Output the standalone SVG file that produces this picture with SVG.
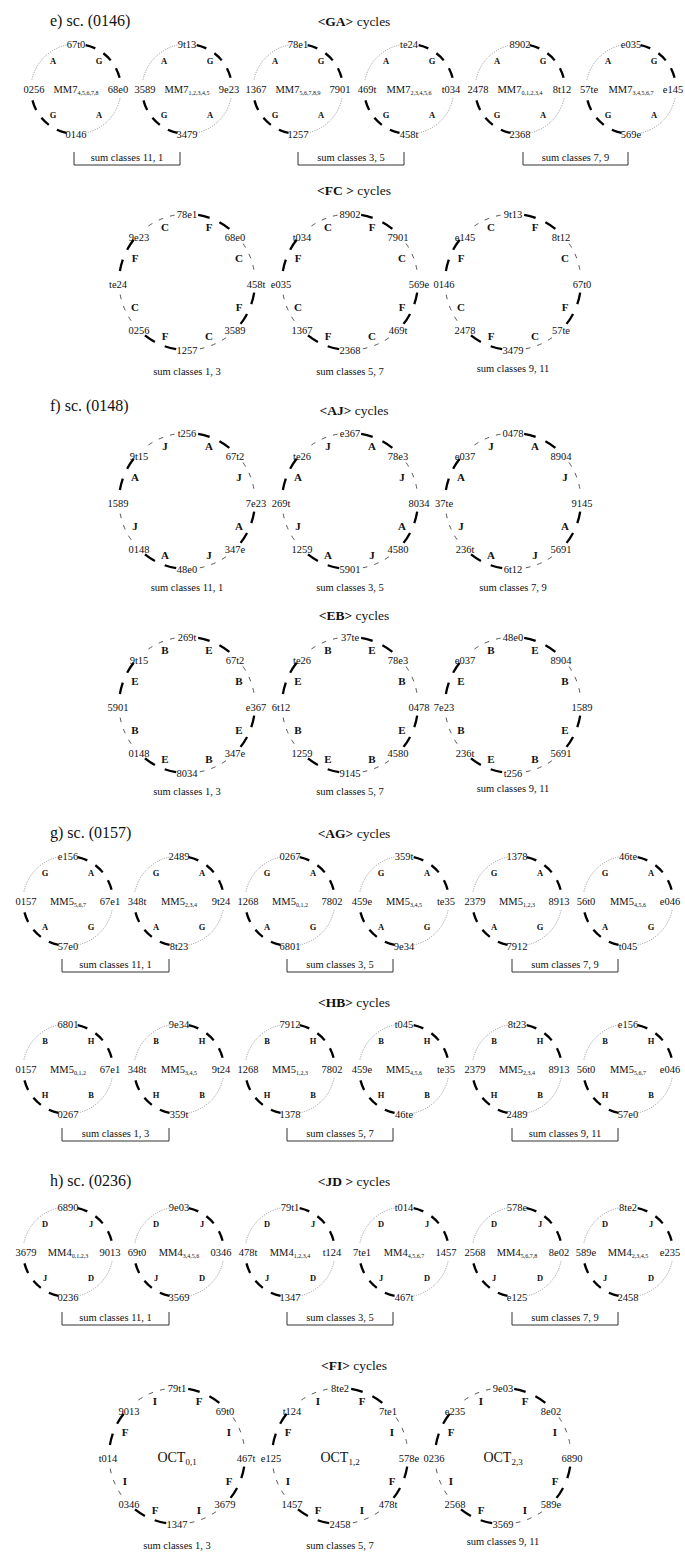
<svg xmlns="http://www.w3.org/2000/svg" xmlns:xlink="http://www.w3.org/1999/xlink" width="685" height="1552" viewBox="0 0 685 1552">
<style>
text{font-family:"Liberation Serif","Times New Roman",serif;fill:#111}
.l{font-size:10.5px;text-anchor:middle}
.lb{font-size:11px;font-weight:bold;text-anchor:middle}
.ls{font-size:8.5px;font-weight:bold;text-anchor:middle}
.mm{font-size:10.5px;text-anchor:middle}
.oc{font-size:14px;text-anchor:middle}
.sub{font-size:6px}
.sub2{font-size:9px}
.h{font-size:16px}
.t{font-size:13.5px;text-anchor:middle}
.b{font-weight:bold}
.sk{fill:none;stroke:#000;stroke-width:2.3;stroke-dasharray:10.21 9.42 10.21 9.42 10.21 91.89;stroke-dashoffset:61.26}
.dot{fill:none;stroke:#777;stroke-width:0.8;stroke-dasharray:1 1.4}
.bk{fill:none;stroke:#000;stroke-width:2.3;stroke-dasharray:11.87 10.68 11.87 72.4;stroke-dashoffset:96.13}
.bt{fill:none;stroke:#444;stroke-width:0.9;stroke-dasharray:4.75 7.12 4.75 7.12 4.75 78.33;stroke-dashoffset:41.54}
.br{fill:none;stroke:#333;stroke-width:1}
</style>
<defs>
<g id="sArcs"><circle r="45" class="sk"/><path class="dot" d="M-44.02,-9.36A45,45 0 0 1 -9.36,-44.02M44.02,9.36A45,45 0 0 1 9.36,44.02"/></g>
<g id="bArcs"><circle r="68" class="bk"/><circle r="68" class="bt"/></g>
</defs>
<rect width="685" height="1552" fill="#fff"/>

<g id="connectors">
<use href="#sArcs" x="76" y="89"/><use href="#sArcs" x="187" y="89"/><use href="#sArcs" x="298" y="89"/><use href="#sArcs" x="409" y="89"/><use href="#sArcs" x="520" y="89"/><use href="#sArcs" x="631" y="89"/>
<use href="#bArcs" x="187" y="282"/><use href="#bArcs" x="350" y="282"/><use href="#bArcs" x="513" y="282"/>
<use href="#bArcs" x="187" y="501"/><use href="#bArcs" x="350" y="501"/><use href="#bArcs" x="513" y="501"/>
<use href="#bArcs" x="187" y="705"/><use href="#bArcs" x="350" y="705"/><use href="#bArcs" x="513" y="705"/>
<use href="#sArcs" x="68" y="901"/><use href="#sArcs" x="179" y="901"/><use href="#sArcs" x="290" y="901"/><use href="#sArcs" x="404" y="901"/><use href="#sArcs" x="517" y="901"/><use href="#sArcs" x="628" y="901"/>
<use href="#sArcs" x="68" y="1069"/><use href="#sArcs" x="179" y="1069"/><use href="#sArcs" x="290" y="1069"/><use href="#sArcs" x="404" y="1069"/><use href="#sArcs" x="517" y="1069"/><use href="#sArcs" x="628" y="1069"/>
<use href="#sArcs" x="68" y="1252"/><use href="#sArcs" x="179" y="1252"/><use href="#sArcs" x="290" y="1252"/><use href="#sArcs" x="404" y="1252"/><use href="#sArcs" x="517" y="1252"/><use href="#sArcs" x="628" y="1252"/>
<use href="#bArcs" x="177" y="1456"/><use href="#bArcs" x="340" y="1456"/><use href="#bArcs" x="503" y="1456"/>
</g>

<g id="titles">
<text class="h" x="50" y="26">e) sc. (0146)</text>
<text class="t" x="354" y="26"><tspan class="b">&lt;GA&gt;</tspan> cycles</text>
<text class="t" x="354" y="195"><tspan class="b">&lt;FC &gt;</tspan> cycles</text>
<text class="h" x="50" y="411">f) sc. (0148)</text>
<text class="t" x="354" y="415"><tspan class="b">&lt;AJ&gt;</tspan> cycles</text>
<text class="t" x="354" y="620"><tspan class="b">&lt;EB&gt;</tspan> cycles</text>
<text class="h" x="50" y="838">g) sc. (0157)</text>
<text class="t" x="354" y="838"><tspan class="b">&lt;AG&gt;</tspan> cycles</text>
<text class="t" x="354" y="1007"><tspan class="b">&lt;HB&gt;</tspan> cycles</text>
<text class="h" x="50" y="1186">h) sc. (0236)</text>
<text class="t" x="354" y="1186"><tspan class="b">&lt;JD &gt;</tspan> cycles</text>
<text class="t" x="354" y="1370"><tspan class="b">&lt;FI&gt;</tspan> cycles</text>
</g>

<g id="brackets">
<path class="br" d="M74,152V165H180V152M298,152V165H404V152M523,152V165H628V152"/>
<text class="l" x="127" y="161">sum classes 11, 1</text>
<text class="l" x="351" y="161">sum classes 3, 5</text>
<text class="l" x="575.5" y="161">sum classes 7, 9</text>
<path class="br" d="M62,959V972H169V959M287,959V972H393V959M512,959V972H618V959"/>
<text class="l" x="115.5" y="968">sum classes 11, 1</text>
<text class="l" x="340" y="968">sum classes 3, 5</text>
<text class="l" x="565" y="968">sum classes 7, 9</text>
<path class="br" d="M62,1128V1141H169V1128M287,1128V1141H393V1128M512,1128V1141H618V1128"/>
<text class="l" x="115.5" y="1137">sum classes 1, 3</text>
<text class="l" x="340" y="1137">sum classes 5, 7</text>
<text class="l" x="565" y="1137">sum classes 9, 11</text>
<path class="br" d="M62,1312V1325H169V1312M287,1312V1325H393V1312M512,1312V1325H618V1312"/>
<text class="l" x="115.5" y="1321">sum classes 11, 1</text>
<text class="l" x="340" y="1321">sum classes 3, 5</text>
<text class="l" x="565" y="1321">sum classes 7, 9</text>
</g>

<!-- GA row -->
<g id="ga1" transform="translate(76,89)"><text class="l" y="-41">67t0</text><text class="l" x="-42" y="4">0256</text><text class="l" x="42" y="4">68e0</text><text class="l" y="49">0146</text><text class="mm" y="4">MM7<tspan class="sub" dy="2">4,5,6,7,8</tspan></text><text class="ls" x="-23" y="-25">A</text><text class="ls" x="23" y="-25">G</text><text class="ls" x="-23" y="29">G</text><text class="ls" x="23" y="29">A</text></g>
<g id="ga2" transform="translate(187,89)"><text class="l" y="-41">9t13</text><text class="l" x="-42" y="4">3589</text><text class="l" x="42" y="4">9e23</text><text class="l" y="49">3479</text><text class="mm" y="4">MM7<tspan class="sub" dy="2">1,2,3,4,5</tspan></text><text class="ls" x="-23" y="-25">A</text><text class="ls" x="23" y="-25">G</text><text class="ls" x="-23" y="29">G</text><text class="ls" x="23" y="29">A</text></g>
<g id="ga3" transform="translate(298,89)"><text class="l" y="-41">78e1</text><text class="l" x="-42" y="4">1367</text><text class="l" x="42" y="4">7901</text><text class="l" y="49">1257</text><text class="mm" y="4">MM7<tspan class="sub" dy="2">5,6,7,8,9</tspan></text><text class="ls" x="-23" y="-25">A</text><text class="ls" x="23" y="-25">G</text><text class="ls" x="-23" y="29">G</text><text class="ls" x="23" y="29">A</text></g>
<g id="ga4" transform="translate(409,89)"><text class="l" y="-41">te24</text><text class="l" x="-42" y="4">469t</text><text class="l" x="42" y="4">t034</text><text class="l" y="49">458t</text><text class="mm" y="4">MM7<tspan class="sub" dy="2">2,3,4,5,6</tspan></text><text class="ls" x="-23" y="-25">A</text><text class="ls" x="23" y="-25">G</text><text class="ls" x="-23" y="29">G</text><text class="ls" x="23" y="29">A</text></g>
<g id="ga5" transform="translate(520,89)"><text class="l" y="-41">8902</text><text class="l" x="-42" y="4">2478</text><text class="l" x="42" y="4">8t12</text><text class="l" y="49">2368</text><text class="mm" y="4">MM7<tspan class="sub" dy="2">0,1,2,3,4</tspan></text><text class="ls" x="-23" y="-25">A</text><text class="ls" x="23" y="-25">G</text><text class="ls" x="-23" y="29">G</text><text class="ls" x="23" y="29">A</text></g>
<g id="ga6" transform="translate(631,89)"><text class="l" y="-41">e035</text><text class="l" x="-42" y="4">57te</text><text class="l" x="42" y="4">e145</text><text class="l" y="49">569e</text><text class="mm" y="4">MM7<tspan class="sub" dy="2">3,4,5,6,7</tspan></text><text class="ls" x="-23" y="-25">A</text><text class="ls" x="23" y="-25">G</text><text class="ls" x="-23" y="29">G</text><text class="ls" x="23" y="29">A</text></g>

<!-- FC row -->
<g id="fc1" transform="translate(187,282)"><text class="l" y="-64">78e1</text><text class="l" x="48" y="-41">68e0</text><text class="l" x="69" y="6">458t</text><text class="l" x="48" y="52">3589</text><text class="l" y="72">1257</text><text class="l" x="-48" y="52">0256</text><text class="l" x="-69" y="6">te24</text><text class="l" x="-48" y="-41">9e23</text><text class="lb" x="-22" y="-51">C</text><text class="lb" x="22" y="-51">F</text><text class="lb" x="52" y="-20">C</text><text class="lb" x="52" y="29">F</text><text class="lb" x="22" y="58">C</text><text class="lb" x="-22" y="58">F</text><text class="lb" x="-52" y="29">C</text><text class="lb" x="-52" y="-20">F</text><text class="l" y="93">sum classes 1, 3</text></g>
<g id="fc2" transform="translate(350,282)"><text class="l" y="-64">8902</text><text class="l" x="48" y="-41">7901</text><text class="l" x="69" y="6">569e</text><text class="l" x="48" y="52">469t</text><text class="l" y="72">2368</text><text class="l" x="-48" y="52">1367</text><text class="l" x="-69" y="6">e035</text><text class="l" x="-48" y="-41">t034</text><text class="lb" x="-22" y="-51">C</text><text class="lb" x="22" y="-51">F</text><text class="lb" x="52" y="-20">C</text><text class="lb" x="52" y="29">F</text><text class="lb" x="22" y="58">C</text><text class="lb" x="-22" y="58">F</text><text class="lb" x="-52" y="29">C</text><text class="lb" x="-52" y="-20">F</text><text class="l" y="93">sum classes 5, 7</text></g>
<g id="fc3" transform="translate(513,282)"><text class="l" y="-64">9t13</text><text class="l" x="48" y="-41">8t12</text><text class="l" x="69" y="6">67t0</text><text class="l" x="48" y="52">57te</text><text class="l" y="72">3479</text><text class="l" x="-48" y="52">2478</text><text class="l" x="-69" y="6">0146</text><text class="l" x="-48" y="-41">e145</text><text class="lb" x="-22" y="-51">C</text><text class="lb" x="22" y="-51">F</text><text class="lb" x="52" y="-20">C</text><text class="lb" x="52" y="29">F</text><text class="lb" x="22" y="58">C</text><text class="lb" x="-22" y="58">F</text><text class="lb" x="-52" y="29">C</text><text class="lb" x="-52" y="-20">F</text><text class="l" y="90">sum classes 9, 11</text></g>

<!-- AJ row -->
<g id="aj1" transform="translate(187,501)"><text class="l" y="-64">t256</text><text class="l" x="48" y="-41">67t2</text><text class="l" x="69" y="6">7e23</text><text class="l" x="48" y="52">347e</text><text class="l" y="72">48e0</text><text class="l" x="-48" y="52">0148</text><text class="l" x="-69" y="6">1589</text><text class="l" x="-48" y="-41">9t15</text><text class="lb" x="-22" y="-51">J</text><text class="lb" x="22" y="-51">A</text><text class="lb" x="52" y="-20">J</text><text class="lb" x="52" y="29">A</text><text class="lb" x="22" y="58">J</text><text class="lb" x="-22" y="58">A</text><text class="lb" x="-52" y="29">J</text><text class="lb" x="-52" y="-20">A</text><text class="l" y="90">sum classes 11, 1</text></g>
<g id="aj2" transform="translate(350,501)"><text class="l" y="-64">e367</text><text class="l" x="48" y="-41">78e3</text><text class="l" x="69" y="6">8034</text><text class="l" x="48" y="52">4580</text><text class="l" y="72">5901</text><text class="l" x="-48" y="52">1259</text><text class="l" x="-69" y="6">269t</text><text class="l" x="-48" y="-41">te26</text><text class="lb" x="-22" y="-51">J</text><text class="lb" x="22" y="-51">A</text><text class="lb" x="52" y="-20">J</text><text class="lb" x="52" y="29">A</text><text class="lb" x="22" y="58">J</text><text class="lb" x="-22" y="58">A</text><text class="lb" x="-52" y="29">J</text><text class="lb" x="-52" y="-20">A</text><text class="l" y="90">sum classes 3, 5</text></g>
<g id="aj3" transform="translate(513,501)"><text class="l" y="-64">0478</text><text class="l" x="48" y="-41">8904</text><text class="l" x="69" y="6">9145</text><text class="l" x="48" y="52">5691</text><text class="l" y="72">6t12</text><text class="l" x="-48" y="52">236t</text><text class="l" x="-69" y="6">37te</text><text class="l" x="-48" y="-41">e037</text><text class="lb" x="-22" y="-51">J</text><text class="lb" x="22" y="-51">A</text><text class="lb" x="52" y="-20">J</text><text class="lb" x="52" y="29">A</text><text class="lb" x="22" y="58">J</text><text class="lb" x="-22" y="58">A</text><text class="lb" x="-52" y="29">J</text><text class="lb" x="-52" y="-20">A</text><text class="l" y="90">sum classes 7, 9</text></g>

<!-- EB row -->
<g id="eb1" transform="translate(187,705)"><text class="l" y="-64">269t</text><text class="l" x="48" y="-41">67t2</text><text class="l" x="69" y="6">e367</text><text class="l" x="48" y="52">347e</text><text class="l" y="72">8034</text><text class="l" x="-48" y="52">0148</text><text class="l" x="-69" y="6">5901</text><text class="l" x="-48" y="-41">9t15</text><text class="lb" x="-22" y="-51">B</text><text class="lb" x="22" y="-51">E</text><text class="lb" x="52" y="-20">B</text><text class="lb" x="52" y="29">E</text><text class="lb" x="22" y="58">B</text><text class="lb" x="-22" y="58">E</text><text class="lb" x="-52" y="29">B</text><text class="lb" x="-52" y="-20">E</text><text class="l" y="90">sum classes 1, 3</text></g>
<g id="eb2" transform="translate(350,705)"><text class="l" y="-64">37te</text><text class="l" x="48" y="-41">78e3</text><text class="l" x="69" y="6">0478</text><text class="l" x="48" y="52">4580</text><text class="l" y="72">9145</text><text class="l" x="-48" y="52">1259</text><text class="l" x="-69" y="6">6t12</text><text class="l" x="-48" y="-41">te26</text><text class="lb" x="-22" y="-51">B</text><text class="lb" x="22" y="-51">E</text><text class="lb" x="52" y="-20">B</text><text class="lb" x="52" y="29">E</text><text class="lb" x="22" y="58">B</text><text class="lb" x="-22" y="58">E</text><text class="lb" x="-52" y="29">B</text><text class="lb" x="-52" y="-20">E</text><text class="l" y="90">sum classes 5, 7</text></g>
<g id="eb3" transform="translate(513,705)"><text class="l" y="-64">48e0</text><text class="l" x="48" y="-41">8904</text><text class="l" x="69" y="6">1589</text><text class="l" x="48" y="52">5691</text><text class="l" y="72">t256</text><text class="l" x="-48" y="52">236t</text><text class="l" x="-69" y="6">7e23</text><text class="l" x="-48" y="-41">e037</text><text class="lb" x="-22" y="-51">B</text><text class="lb" x="22" y="-51">E</text><text class="lb" x="52" y="-20">B</text><text class="lb" x="52" y="29">E</text><text class="lb" x="22" y="58">B</text><text class="lb" x="-22" y="58">E</text><text class="lb" x="-52" y="29">B</text><text class="lb" x="-52" y="-20">E</text><text class="l" y="87">sum classes 9, 11</text></g>

<!-- AG row -->
<g id="ag1" transform="translate(68,901)"><text class="l" y="-41">e156</text><text class="l" x="-42" y="4">0157</text><text class="l" x="42" y="4">67e1</text><text class="l" y="49">57e0</text><text class="mm" y="4">MM5<tspan class="sub" dy="2">5,6,7</tspan></text><text class="ls" x="-23" y="-25">G</text><text class="ls" x="23" y="-25">A</text><text class="ls" x="-23" y="29">A</text><text class="ls" x="23" y="29">G</text></g>
<g id="ag2" transform="translate(179,901)"><text class="l" y="-41">2489</text><text class="l" x="-42" y="4">348t</text><text class="l" x="42" y="4">9t24</text><text class="l" y="49">8t23</text><text class="mm" y="4">MM5<tspan class="sub" dy="2">2,3,4</tspan></text><text class="ls" x="-23" y="-25">G</text><text class="ls" x="23" y="-25">A</text><text class="ls" x="-23" y="29">A</text><text class="ls" x="23" y="29">G</text></g>
<g id="ag3" transform="translate(290,901)"><text class="l" y="-41">0267</text><text class="l" x="-42" y="4">1268</text><text class="l" x="42" y="4">7802</text><text class="l" y="49">6801</text><text class="mm" y="4">MM5<tspan class="sub" dy="2">0,1,2</tspan></text><text class="ls" x="-23" y="-25">G</text><text class="ls" x="23" y="-25">A</text><text class="ls" x="-23" y="29">A</text><text class="ls" x="23" y="29">G</text></g>
<g id="ag4" transform="translate(404,901)"><text class="l" y="-41">359t</text><text class="l" x="-42" y="4">459e</text><text class="l" x="42" y="4">te35</text><text class="l" y="49">9e34</text><text class="mm" y="4">MM5<tspan class="sub" dy="2">3,4,5</tspan></text><text class="ls" x="-23" y="-25">G</text><text class="ls" x="23" y="-25">A</text><text class="ls" x="-23" y="29">A</text><text class="ls" x="23" y="29">G</text></g>
<g id="ag5" transform="translate(517,901)"><text class="l" y="-41">1378</text><text class="l" x="-42" y="4">2379</text><text class="l" x="42" y="4">8913</text><text class="l" y="49">7912</text><text class="mm" y="4">MM5<tspan class="sub" dy="2">1,2,3</tspan></text><text class="ls" x="-23" y="-25">G</text><text class="ls" x="23" y="-25">A</text><text class="ls" x="-23" y="29">A</text><text class="ls" x="23" y="29">G</text></g>
<g id="ag6" transform="translate(628,901)"><text class="l" y="-41">46te</text><text class="l" x="-42" y="4">56t0</text><text class="l" x="42" y="4">e046</text><text class="l" y="49">t045</text><text class="mm" y="4">MM5<tspan class="sub" dy="2">4,5,6</tspan></text><text class="ls" x="-23" y="-25">G</text><text class="ls" x="23" y="-25">A</text><text class="ls" x="-23" y="29">A</text><text class="ls" x="23" y="29">G</text></g>

<!-- HB row -->
<g id="hb1" transform="translate(68,1069)"><text class="l" y="-41">6801</text><text class="l" x="-42" y="4">0157</text><text class="l" x="42" y="4">67e1</text><text class="l" y="49">0267</text><text class="mm" y="4">MM5<tspan class="sub" dy="2">0,1,2</tspan></text><text class="ls" x="-23" y="-25">B</text><text class="ls" x="23" y="-25">H</text><text class="ls" x="-23" y="29">H</text><text class="ls" x="23" y="29">B</text></g>
<g id="hb2" transform="translate(179,1069)"><text class="l" y="-41">9e34</text><text class="l" x="-42" y="4">348t</text><text class="l" x="42" y="4">9t24</text><text class="l" y="49">359t</text><text class="mm" y="4">MM5<tspan class="sub" dy="2">3,4,5</tspan></text><text class="ls" x="-23" y="-25">B</text><text class="ls" x="23" y="-25">H</text><text class="ls" x="-23" y="29">H</text><text class="ls" x="23" y="29">B</text></g>
<g id="hb3" transform="translate(290,1069)"><text class="l" y="-41">7912</text><text class="l" x="-42" y="4">1268</text><text class="l" x="42" y="4">7802</text><text class="l" y="49">1378</text><text class="mm" y="4">MM5<tspan class="sub" dy="2">1,2,3</tspan></text><text class="ls" x="-23" y="-25">B</text><text class="ls" x="23" y="-25">H</text><text class="ls" x="-23" y="29">H</text><text class="ls" x="23" y="29">B</text></g>
<g id="hb4" transform="translate(404,1069)"><text class="l" y="-41">t045</text><text class="l" x="-42" y="4">459e</text><text class="l" x="42" y="4">te35</text><text class="l" y="49">46te</text><text class="mm" y="4">MM5<tspan class="sub" dy="2">4,5,6</tspan></text><text class="ls" x="-23" y="-25">B</text><text class="ls" x="23" y="-25">H</text><text class="ls" x="-23" y="29">H</text><text class="ls" x="23" y="29">B</text></g>
<g id="hb5" transform="translate(517,1069)"><text class="l" y="-41">8t23</text><text class="l" x="-42" y="4">2379</text><text class="l" x="42" y="4">8913</text><text class="l" y="49">2489</text><text class="mm" y="4">MM5<tspan class="sub" dy="2">2,3,4</tspan></text><text class="ls" x="-23" y="-25">B</text><text class="ls" x="23" y="-25">H</text><text class="ls" x="-23" y="29">H</text><text class="ls" x="23" y="29">B</text></g>
<g id="hb6" transform="translate(628,1069)"><text class="l" y="-41">e156</text><text class="l" x="-42" y="4">56t0</text><text class="l" x="42" y="4">e046</text><text class="l" y="49">57e0</text><text class="mm" y="4">MM5<tspan class="sub" dy="2">5,6,7</tspan></text><text class="ls" x="-23" y="-25">B</text><text class="ls" x="23" y="-25">H</text><text class="ls" x="-23" y="29">H</text><text class="ls" x="23" y="29">B</text></g>

<!-- JD row -->
<g id="jd1" transform="translate(68,1252)"><text class="l" y="-41">6890</text><text class="l" x="-42" y="4">3679</text><text class="l" x="42" y="4">9013</text><text class="l" y="49">0236</text><text class="mm" y="4">MM4<tspan class="sub" dy="2">0,1,2,3</tspan></text><text class="ls" x="-23" y="-25">D</text><text class="ls" x="23" y="-25">J</text><text class="ls" x="-23" y="29">J</text><text class="ls" x="23" y="29">D</text></g>
<g id="jd2" transform="translate(179,1252)"><text class="l" y="-41">9e03</text><text class="l" x="-42" y="4">69t0</text><text class="l" x="42" y="4">0346</text><text class="l" y="49">3569</text><text class="mm" y="4">MM4<tspan class="sub" dy="2">3,4,5,6</tspan></text><text class="ls" x="-23" y="-25">D</text><text class="ls" x="23" y="-25">J</text><text class="ls" x="-23" y="29">J</text><text class="ls" x="23" y="29">D</text></g>
<g id="jd3" transform="translate(290,1252)"><text class="l" y="-41">79t1</text><text class="l" x="-42" y="4">478t</text><text class="l" x="42" y="4">t124</text><text class="l" y="49">1347</text><text class="mm" y="4">MM4<tspan class="sub" dy="2">1,2,3,4</tspan></text><text class="ls" x="-23" y="-25">D</text><text class="ls" x="23" y="-25">J</text><text class="ls" x="-23" y="29">J</text><text class="ls" x="23" y="29">D</text></g>
<g id="jd4" transform="translate(404,1252)"><text class="l" y="-41">t014</text><text class="l" x="-42" y="4">7te1</text><text class="l" x="42" y="4">1457</text><text class="l" y="49">467t</text><text class="mm" y="4">MM4<tspan class="sub" dy="2">4,5,6,7</tspan></text><text class="ls" x="-23" y="-25">D</text><text class="ls" x="23" y="-25">J</text><text class="ls" x="-23" y="29">J</text><text class="ls" x="23" y="29">D</text></g>
<g id="jd5" transform="translate(517,1252)"><text class="l" y="-41">578e</text><text class="l" x="-42" y="4">2568</text><text class="l" x="42" y="4">8e02</text><text class="l" y="49">e125</text><text class="mm" y="4">MM4<tspan class="sub" dy="2">5,6,7,8</tspan></text><text class="ls" x="-23" y="-25">D</text><text class="ls" x="23" y="-25">J</text><text class="ls" x="-23" y="29">J</text><text class="ls" x="23" y="29">D</text></g>
<g id="jd6" transform="translate(628,1252)"><text class="l" y="-41">8te2</text><text class="l" x="-42" y="4">589e</text><text class="l" x="42" y="4">e235</text><text class="l" y="49">2458</text><text class="mm" y="4">MM4<tspan class="sub" dy="2">2,3,4,5</tspan></text><text class="ls" x="-23" y="-25">D</text><text class="ls" x="23" y="-25">J</text><text class="ls" x="-23" y="29">J</text><text class="ls" x="23" y="29">D</text></g>

<!-- FI row -->
<g id="fi1" transform="translate(177,1456)"><text class="l" y="-64">79t1</text><text class="l" x="48" y="-41">69t0</text><text class="l" x="69" y="6">467t</text><text class="l" x="48" y="52">3679</text><text class="l" y="72">1347</text><text class="l" x="-48" y="52">0346</text><text class="l" x="-69" y="6">t014</text><text class="l" x="-48" y="-41">9013</text><text class="oc" y="6">OCT<tspan class="sub2" dy="3">0,1</tspan></text><text class="lb" x="-22" y="-51">I</text><text class="lb" x="22" y="-51">F</text><text class="lb" x="52" y="-20">I</text><text class="lb" x="52" y="29">F</text><text class="lb" x="22" y="58">I</text><text class="lb" x="-22" y="58">F</text><text class="lb" x="-52" y="29">I</text><text class="lb" x="-52" y="-20">F</text><text class="l" y="93">sum classes 1, 3</text></g>
<g id="fi2" transform="translate(340,1456)"><text class="l" y="-64">8te2</text><text class="l" x="48" y="-41">7te1</text><text class="l" x="69" y="6">578e</text><text class="l" x="48" y="52">478t</text><text class="l" y="72">2458</text><text class="l" x="-48" y="52">1457</text><text class="l" x="-69" y="6">e125</text><text class="l" x="-48" y="-41">t124</text><text class="oc" y="6">OCT<tspan class="sub2" dy="3">1,2</tspan></text><text class="lb" x="-22" y="-51">I</text><text class="lb" x="22" y="-51">F</text><text class="lb" x="52" y="-20">I</text><text class="lb" x="52" y="29">F</text><text class="lb" x="22" y="58">I</text><text class="lb" x="-22" y="58">F</text><text class="lb" x="-52" y="29">I</text><text class="lb" x="-52" y="-20">F</text><text class="l" y="93">sum classes 5, 7</text></g>
<g id="fi3" transform="translate(503,1456)"><text class="l" y="-64">9e03</text><text class="l" x="48" y="-41">8e02</text><text class="l" x="69" y="6">6890</text><text class="l" x="48" y="52">589e</text><text class="l" y="72">3569</text><text class="l" x="-48" y="52">2568</text><text class="l" x="-69" y="6">0236</text><text class="l" x="-48" y="-41">e235</text><text class="oc" y="6">OCT<tspan class="sub2" dy="3">2,3</tspan></text><text class="lb" x="-22" y="-51">I</text><text class="lb" x="22" y="-51">F</text><text class="lb" x="52" y="-20">I</text><text class="lb" x="52" y="29">F</text><text class="lb" x="22" y="58">I</text><text class="lb" x="-22" y="58">F</text><text class="lb" x="-52" y="29">I</text><text class="lb" x="-52" y="-20">F</text><text class="l" y="89">sum classes 9, 11</text></g>
</svg>
